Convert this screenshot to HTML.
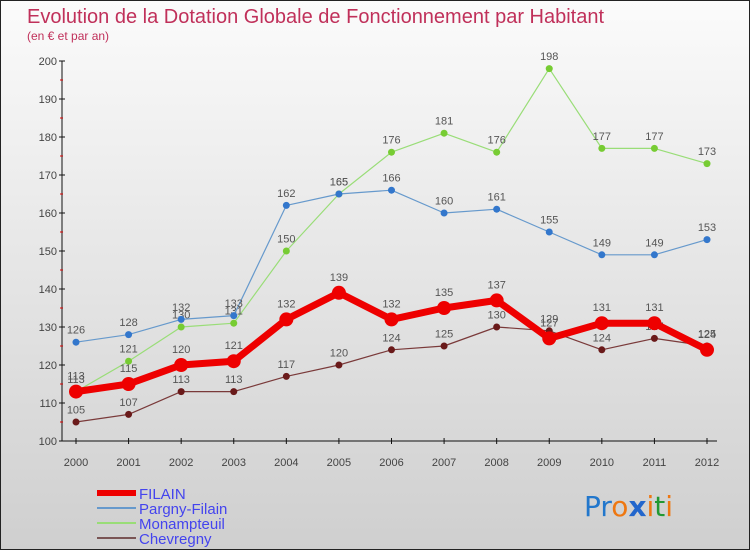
<!DOCTYPE html>
<html><head><meta charset="utf-8"><style>
body{margin:0;width:750px;height:550px;overflow:hidden;font-family:"Liberation Sans",sans-serif}
#wrap{position:relative;width:748px;height:548px;border:1px solid #222;background:linear-gradient(#fbfbfb,#cfcfcf)}
svg{position:absolute;left:0;top:0}
</style></head><body>
<div id="wrap">
<svg id="c" width="750" height="550">
<text x="26" y="22" font-size="20" fill="#c0305a">Evolution de la Dotation Globale de Fonctionnement par Habitant</text>
<text x="26" y="39" font-size="12" fill="#c0305a">(en € et par an)</text>
<text x="583" y="515" font-size="28" font-family="'DejaVu Sans',sans-serif"><tspan fill="#2277cc">Pr</tspan><tspan fill="#ee7711">o</tspan><tspan fill="#2266cc" font-weight="bold">x</tspan><tspan fill="#ee7711">i</tspan><tspan fill="#229933">t</tspan><tspan fill="#ee7711">i</tspan></text>
</svg></div>
<script>
const years=[2000,2001,2002,2003,2004,2005,2006,2007,2008,2009,2010,2011,2012];
const filain=[113,115,120,121,132,139,132,135,137,127,131,131,124];
const pargny=[126,128,132,133,162,165,166,160,161,155,149,149,153];
const monampteuil=[113,121,130,131,150,165,176,181,176,198,177,177,173];
const chevregny=[105,107,113,113,117,120,124,125,130,129,124,127,125];
const yTicks=[100,110,120,130,140,150,160,170,180,190,200];
const NS="http://www.w3.org/2000/svg",svg=document.getElementById('c');
const x=i=>75+i*(706-75)/(years.length-1);
const y=v=>440-(v-100)*3.8;
function el(t,a,p){const e=document.createElementNS(NS,t);for(const k in a)e.setAttribute(k,a[k]);(p||svg).appendChild(e);return e;}
const ax=el('g',{});


el('line',{x1:61,y1:60,x2:61,y2:440,stroke:'#111'},ax);
el('line',{x1:61,y1:440,x2:716,y2:440,stroke:'#111'},ax);
yTicks.forEach(v=>{
 el('line',{x1:58,y1:y(v),x2:64,y2:y(v),stroke:'#111'},ax);
 if(v<200) el('line',{x1:59,y1:y(v+5),x2:62,y2:y(v+5),stroke:'#d00'},ax);
 const t=el('text',{x:56,y:y(v)+4,'font-size':11,fill:'#444','text-anchor':'end'},ax);t.textContent=v;
 
 
});
years.forEach((yr,i)=>{
 el('line',{x1:x(i),y1:437,x2:x(i),y2:443,stroke:'#111'},ax);
 const t=el('text',{x:x(i),y:465,'font-size':11,fill:'#444','text-anchor':'middle'},ax);t.textContent=yr;
 
 
});
const series=[
 {name:'chevregny',d:chevregny,c:'#7a3a3a',w:1.2,r:3.5,f:'#6a1a1a'},
 {name:'monampteuil',d:monampteuil,c:'#99dd77',w:1.2,r:3.5,f:'#77cc33'},
 {name:'pargny-filain',d:pargny,c:'#6699cc',w:1.2,r:3.5,f:'#3377cc'},
 {name:'filain',d:filain,c:'#ee0000',w:7,r:7,f:'#ee0000'}];
series.forEach(s=>{
 const g=el('g',{});
 
 
 const p=el('polyline',{points:s.d.map((v,i)=>x(i)+','+y(v)).join(' '),fill:'none',stroke:s.c,'stroke-width':s.w,'stroke-linejoin':'round'},g);
 s.d.forEach((v,i)=>{
  const c=el('circle',{cx:x(i),cy:y(v),r:s.r,fill:s.f},g);
  
  
  const t=el('text',{x:x(i),y:y(v)-(s.r+5),'font-size':11,fill:'#555','text-anchor':'middle'},g);t.textContent=v;
  
  
 });
});
const leg=[['FILAIN','#ee0000',6],['Pargny-Filain','#6699cc',2],['Monampteuil','#99dd77',2],['Chevregny','#7a5555',2]];
leg.forEach((l,i)=>{
 const g=el('g',{});
 
 
 const yy=492+i*15;
 el('line',{x1:96,y1:yy,x2:135,y2:yy,stroke:l[1],'stroke-width':l[2]},g);
 const t=el('text',{x:138,y:yy+6,'font-size':15,fill:'#4444ee'},g);t.textContent=l[0];
});
</script>
</body></html>
